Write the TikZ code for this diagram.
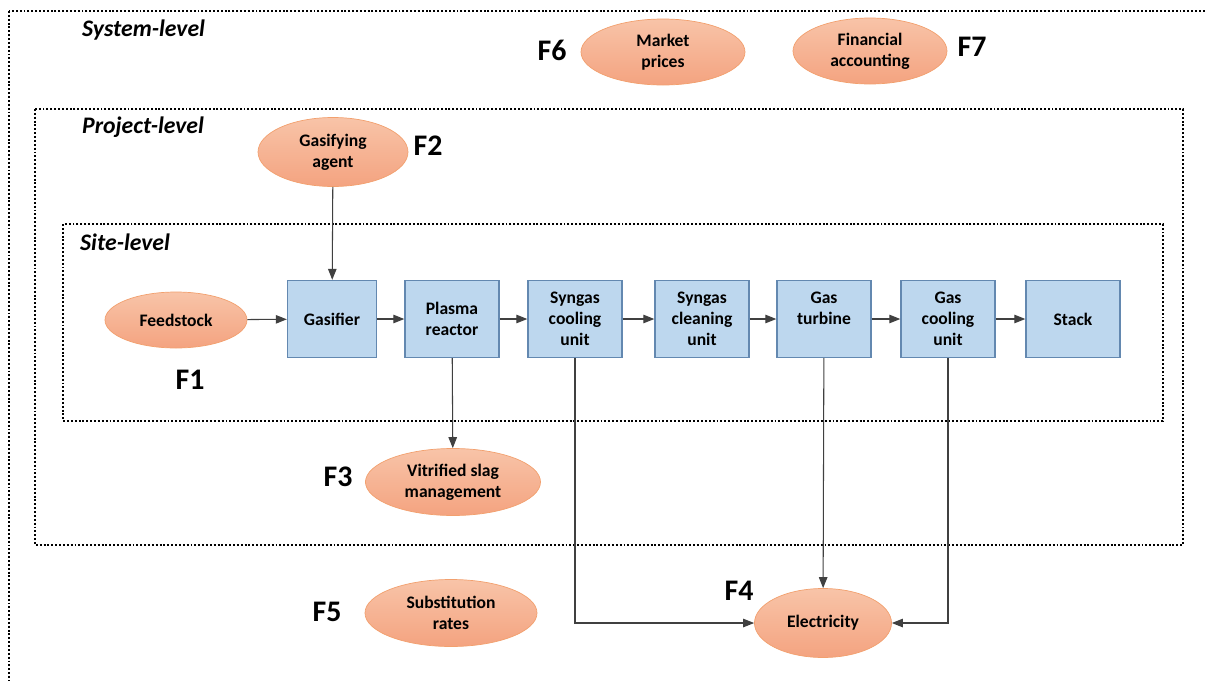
\documentclass[tikz,border=0pt]{standalone}
\usepackage{fontspec}
\setmainfont{Carlito}
\usetikzlibrary{shapes.geometric,arrows.meta}
\definecolor{ellTop}{HTML}{F8C4A8}
\definecolor{ellBot}{HTML}{F4A380}
\definecolor{ellLine}{HTML}{F2A06E}
\definecolor{boxFill}{HTML}{BDD7EE}
\definecolor{boxLine}{HTML}{6388B0}
\tikzset{
  factor/.style={ellipse, draw=ellLine, top color=ellTop, bottom color=ellBot, inner sep=0pt,
    font=\fontsize{10}{12}\selectfont\bfseries, align=center},
  unit/.style={draw=boxLine, thick, fill=boxFill, minimum width=1.88cm, minimum height=1.54cm,
    inner sep=0pt, font=\fontsize{10}{12}\selectfont\bfseries, align=center},
  flabel/.style={font=\fontsize{17}{19}\selectfont\bfseries},
  levellabel/.style={anchor=west, font=\fontsize{13.5}{15}\selectfont\bfseries\itshape},
  levelbox/.style={line width=0.9pt, dash pattern=on 1.1pt off 1.1pt},
  flow/.style={black!75, line width=0.6pt, -{Triangle[length=2.2mm, width=1.7mm]}}
}
\begin{document}
\begin{tikzpicture}
  \useasboundingbox (0,0) rectangle (24.12,-13.62);

  \draw[levelbox] (0.18,-0.22) rectangle (24.6,-14.2);
  \draw[levelbox] (0.7,-2.18) rectangle (23.66,-10.9);
  \draw[levelbox] (1.26,-4.48) rectangle (23.26,-8.42);

  \node[levellabel] (system) at (1.52,-0.6) {System-level};
  \node[levellabel] (project) at (1.52,-2.54) {Project-level};
  \node[levellabel] (site) at (1.48,-4.84) {Site-level};

  \node[unit, minimum width=1.78cm] (gasifier) at (6.64,-6.38) {Gasifier};
  \node[unit] (plasma) at (9.04,-6.38) {Plasma\\reactor};
  \node[unit] (scool) at (11.5,-6.38) {Syngas\\cooling\\unit};
  \node[unit] (sclean) at (14.04,-6.38) {Syngas\\cleaning\\unit};
  \node[unit] (turbine) at (16.48,-6.38) {Gas\\turbine\\\phantom{unit}};
  \node[unit] (gcool) at (18.96,-6.38) {Gas\\cooling\\unit};
  \node[unit] (stack) at (21.46,-6.38) {Stack};

  \node[factor, minimum width=2.84cm, minimum height=1.12cm] (feed) at (3.52,-6.4) {Feedstock};
  \node[factor, minimum width=3.0cm, minimum height=1.38cm] (agent) at (6.66,-3.04) {Gasifying\\agent};
  \node[factor, minimum width=3.28cm, minimum height=1.32cm] (market) at (13.26,-1.04) {Market\\prices};
  \node[factor, minimum width=3.08cm, minimum height=1.32cm] (finance) at (17.4,-1.02) {Financial\\accounting};
  \node[factor, minimum width=3.5cm, minimum height=1.34cm] (slag) at (9.06,-9.64) {Vitrified slag\\management};
  \node[factor, minimum width=3.44cm, minimum height=1.34cm] (subst) at (9.02,-12.26) {Substitution\\rates};
  \node[factor, minimum width=2.74cm, minimum height=1.38cm] (elec) at (16.46,-12.46) {Electricity};

  \node[flabel] (f1) at (3.8,-7.6) {F1};
  \node[flabel] (f2) at (8.56,-2.92) {F2};
  \node[flabel] (f3) at (6.76,-9.54) {F3};
  \node[flabel] (f4) at (14.78,-11.82) {F4};
  \node[flabel] (f5) at (6.54,-12.24) {F5};
  \node[flabel] (f6) at (11.04,-1.0) {F6};
  \node[flabel] (f7) at (19.44,-0.94) {F7};

  \foreach \a/\b in {feed/gasifier, gasifier/plasma, plasma/scool, scool/sclean,
                     sclean/turbine, turbine/gcool, gcool/stack}
    \draw[flow] (\a) -- (\b);

  \draw[flow] (agent) -- (gasifier);
  \draw[flow] (plasma) -- (slag);
  \draw[flow] (turbine) -- (elec);
  \draw[flow] (scool.south) |- (elec.west);
  \draw[flow] (gcool.south) |- (elec.east);
\end{tikzpicture}
\end{document}
